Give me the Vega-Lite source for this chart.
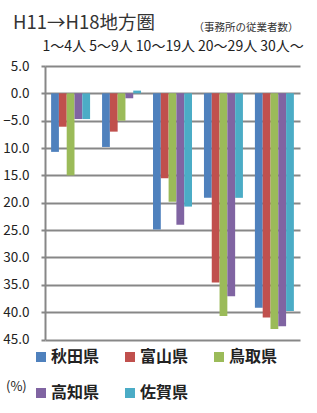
{
  "$schema": "https://vega.github.io/schema/vega-lite/v6.json",
  "width": 255,
  "height": 273.5,
  "autosize": {"type": "none"},
  "padding": {"left": 45, "top": 66, "right": 17, "bottom": 73.5},
  "background": "white",
  "title": {
    "text": "H11→H18地方圏",
    "anchor": "start",
    "frame": "group",
    "dx": -32,
    "dy": 25,
    "offset": 0,
    "baseline": "alphabetic",
    "font": "Noto Sans CJK JP",
    "fontSize": 18.5,
    "fontWeight": "normal",
    "color": "#333333"
  },
  "data": {
    "values": [
      {"size": "1～4人", "pref": "秋田県", "value": -10.7},
      {"size": "1～4人", "pref": "富山県", "value": -6.1},
      {"size": "1～4人", "pref": "鳥取県", "value": -15.0},
      {"size": "1～4人", "pref": "高知県", "value": -4.7},
      {"size": "1～4人", "pref": "佐賀県", "value": -4.7},
      {"size": "5～9人", "pref": "秋田県", "value": -9.8},
      {"size": "5～9人", "pref": "富山県", "value": -7.0},
      {"size": "5～9人", "pref": "鳥取県", "value": -5.0},
      {"size": "5～9人", "pref": "高知県", "value": -0.9},
      {"size": "5～9人", "pref": "佐賀県", "value": 0.5},
      {"size": "10～19人", "pref": "秋田県", "value": -24.9},
      {"size": "10～19人", "pref": "富山県", "value": -15.5},
      {"size": "10～19人", "pref": "鳥取県", "value": -19.8},
      {"size": "10～19人", "pref": "高知県", "value": -24.0},
      {"size": "10～19人", "pref": "佐賀県", "value": -20.7},
      {"size": "20～29人", "pref": "秋田県", "value": -19.1},
      {"size": "20～29人", "pref": "富山県", "value": -34.6},
      {"size": "20～29人", "pref": "鳥取県", "value": -40.7},
      {"size": "20～29人", "pref": "高知県", "value": -37.1},
      {"size": "20～29人", "pref": "佐賀県", "value": -19.1},
      {"size": "30人～", "pref": "秋田県", "value": -39.2},
      {"size": "30人～", "pref": "富山県", "value": -41.0},
      {"size": "30人～", "pref": "鳥取県", "value": -43.1},
      {"size": "30人～", "pref": "高知県", "value": -42.6},
      {"size": "30人～", "pref": "佐賀県", "value": -39.8}
    ]
  },
  "mark": {"type": "bar"},
  "encoding": {
    "x": {
      "field": "size",
      "type": "nominal",
      "sort": ["1～4人", "5～9人", "10～19人", "20～29人", "30人～"],
      "scale": {"paddingInner": 0.235, "paddingOuter": 0.12},
      "axis": {
        "orient": "top",
        "title": "1～4人 5～9人 10～19人 20～29人 30人～",
        "labels": false,
        "ticks": false,
        "domain": false,
        "grid": false,
        "titleX": -3,
        "titleY": -16,
        "titleAlign": "left",
        "titleBaseline": "alphabetic",
        "titleFont": "Noto Sans CJK JP",
        "titleFontSize": 14,
        "titleFontWeight": "normal",
        "titleColor": "#222222"
      }
    },
    "xOffset": {
      "field": "pref",
      "type": "nominal",
      "sort": ["秋田県", "富山県", "鳥取県", "高知県", "佐賀県"],
      "scale": {"paddingInner": 0, "paddingOuter": 0}
    },
    "y": {
      "field": "value",
      "type": "quantitative",
      "scale": {"domain": [-45, 5], "nice": false, "zero": false},
      "axis": {
        "values": [5, 0, -5, -10, -15, -20, -25, -30, -35, -40, -45],
        "labelExpr": "datum.value <= -10 ? format(-datum.value, '.1f') : format(datum.value, '.1f')",
        "labelFont": "Noto Sans CJK JP",
        "labelFontSize": 13.5,
        "labelColor": "#222222",
        "labelPadding": 12,
        "tickSize": 4,
        "tickWidth": 2,
        "tickColor": "#878787",
        "domainColor": "#878787",
        "domainWidth": 2,
        "grid": true,
        "gridColor": "#878787",
        "gridWidth": 2,
        "title": "（事務所の従業者数）",
        "titleAngle": 0,
        "titleX": 148,
        "titleY": -36,
        "titleAlign": "left",
        "titleBaseline": "alphabetic",
        "titleFont": "Noto Sans CJK JP",
        "titleFontSize": 10.5,
        "titleFontWeight": "normal",
        "titleColor": "#333333"
      }
    },
    "color": {
      "field": "pref",
      "type": "nominal",
      "sort": ["秋田県", "富山県", "鳥取県", "高知県", "佐賀県"],
      "scale": {
        "domain": ["秋田県", "富山県", "鳥取県", "高知県", "佐賀県"],
        "range": ["#4F81BD", "#C0504D", "#9BBB59", "#8064A2", "#4BACC6"]
      },
      "legend": {
        "orient": "none",
        "legendX": -39,
        "legendY": 283,
        "direction": "horizontal",
        "columns": 3,
        "title": ["(%)", ""],
        "titleOrient": "left",
        "titleAnchor": "end",
        "titleLineHeight": 7,
        "titleFont": "Noto Sans CJK JP",
        "titleFontSize": 13,
        "titleFontWeight": "normal",
        "titleColor": "#222222",
        "titlePadding": 6,
        "symbolType": "square",
        "symbolSize": 100,
        "symbolStrokeWidth": 0,
        "symbolOpacity": 1,
        "labelFont": "Noto Sans CJK JP",
        "labelFontSize": 16,
        "labelFontWeight": "bold",
        "labelColor": "#222222",
        "labelOffset": 2,
        "columnPadding": 22,
        "rowPadding": 20,
        "padding": 0
      }
    }
  },
  "config": {"view": {"stroke": null}}
}
